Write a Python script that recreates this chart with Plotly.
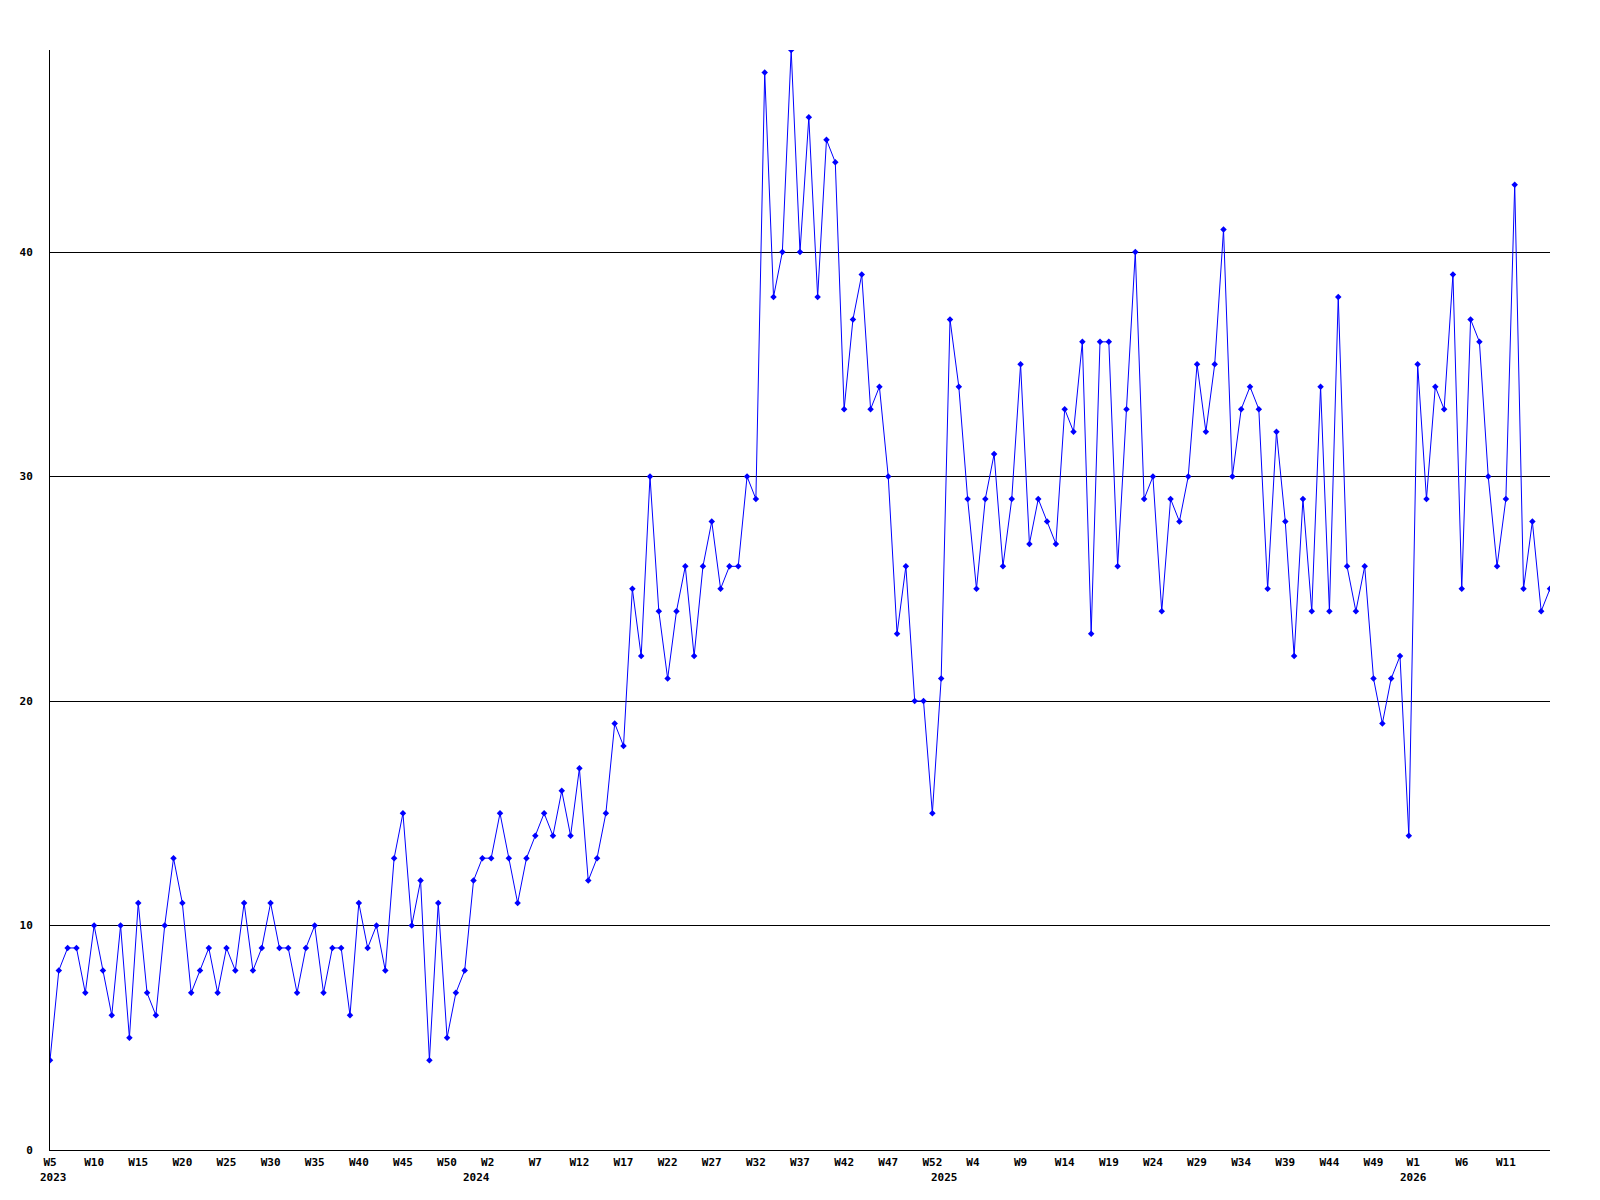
import plotly.graph_objects as go

# Weekly counts, starting at 2023 W5 (one value per week)
values = [
    4, 8, 9, 9, 7, 10, 8, 6, 10, 5, 11, 7, 6, 10, 13, 11, 7, 8, 9, 7,
    9, 8, 11, 8, 9, 11, 9, 9, 7, 9, 10, 7, 9, 9, 6, 11, 9, 10, 8, 13,
    15, 10, 12, 4, 11, 5, 7, 8, 12, 13, 13, 15, 13, 11, 13, 14, 15, 14, 16, 14,
    17, 12, 13, 15, 19, 18, 25, 22, 30, 24, 21, 24, 26, 22, 26, 28, 25, 26, 26, 30,
    29, 48, 38, 40, 49, 40, 46, 38, 45, 44, 33, 37, 39, 33, 34, 30, 23, 26, 20, 20,
    15, 21, 37, 34, 29, 25, 29, 31, 26, 29, 35, 27, 29, 28, 27, 33, 32, 36, 23, 36,
    36, 26, 33, 40, 29, 30, 24, 29, 28, 30, 35, 32, 35, 41, 30, 33, 34, 33, 25, 32,
    28, 22, 29, 24, 34, 24, 38, 26, 24, 26, 21, 19, 21, 22, 14, 35, 29, 34, 33, 39,
    25, 37, 36, 30, 26, 29, 43, 25, 28, 24, 25,
]

# Week tick labels (one every 5 weeks)
week_labels = [
    "W5", "W10", "W15", "W20", "W25", "W30", "W35", "W40", "W45", "W50",
    "W2", "W7", "W12", "W17", "W22", "W27", "W32", "W37", "W42", "W47", "W52",
    "W4", "W9", "W14", "W19", "W24", "W29", "W34", "W39", "W44", "W49",
    "W1", "W6", "W11",
]
# Position (in weeks since start) of each week tick label
week_label_pos = [
    0, 5, 10, 15, 20, 25, 30, 35, 40, 45,
    49.6, 55, 60, 65, 70, 75, 80, 85, 90, 95, 100,
    104.6, 110, 115, 120, 125, 130, 135, 140, 145, 150,
    154.5, 160, 165,
]

year_labels = ["2023", "2024", "2025", "2026"]
year_label_pos = [0.35, 48.3, 101.4, 154.5]

y_ticks = [0, 10, 20, 30, 40]

x = list(range(len(values)))

fig = go.Figure()
fig.add_trace(go.Scatter(
    x=x, y=values, mode="lines+markers",
    line=dict(color="#0000ff", width=1),
    marker=dict(symbol="diamond", size=5, color="#0000ff"),
    hoverinfo="x+y",
))

tick_font = dict(family="DejaVu Sans Mono", size=11, color="black", weight="bold")

for label, pos in zip(year_labels, year_label_pos):
    fig.add_annotation(
        x=pos, xref="x", y=0, yref="paper",
        text=label, showarrow=False,
        xanchor="center", yanchor="middle", yshift=-27,
        font=tick_font,
    )

fig.update_layout(
    width=1600, height=1200,
    margin=dict(l=50, r=50, t=50, b=50),
    paper_bgcolor="white", plot_bgcolor="white",
    showlegend=False,
    xaxis=dict(
        range=[0, len(values) - 1],
        tickmode="array", tickvals=week_label_pos, ticktext=week_labels,
        tickfont=tick_font, ticks="", showgrid=False, zeroline=False,
        showline=True, linecolor="black", linewidth=1,
        ticklabelstandoff=2,
    ),
    yaxis=dict(
        range=[0, 49],
        tickmode="array", tickvals=y_ticks, ticktext=[str(v) for v in y_ticks],
        tickfont=tick_font, ticks="", showgrid=True, gridcolor="black", gridwidth=1,
        zeroline=False, showline=True, linecolor="black", linewidth=1,
        ticklabelstandoff=14,
    ),
)

fig.write_html("out.html", config={"displayModeBar": False})
with open("out.html", "r", encoding="utf-8") as f:
    html = f.read()
html = html.replace("<body>", '<body style="margin:0;overflow:hidden">', 1)
with open("out.html", "w", encoding="utf-8") as f:
    f.write(html)
